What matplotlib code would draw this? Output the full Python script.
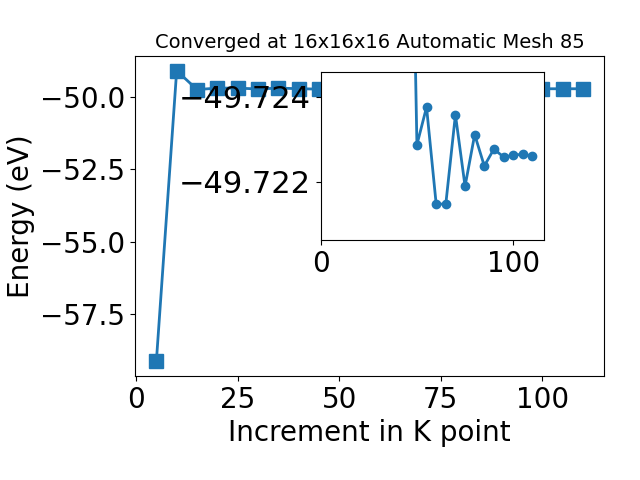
import numpy as np
import matplotlib
matplotlib.use("Agg")
from matplotlib import pyplot as plt

# k-point increments and total energies
kpoints = [5, 10, 15, 20, 25, 30, 35, 40, 45, 50, 55, 60, 65, 70, 75, 80, 85, 90, 95, 100, 105, 110]
energy = [-59.115, -49.10, -49.75, -49.70, -49.70, -49.73, -49.70, -49.72, -49.735,
          -49.72287, -49.72376, -49.72147, -49.72147, -49.72358, -49.72189, -49.72311,
          -49.72237, -49.72277, -49.72258, -49.72262, -49.72265, -49.72260]

plt.rcParams['font.size'] = 20

fig = plt.figure(figsize=(6.4, 4.8), dpi=100)
ax = fig.add_axes([0.211, 0.217, 0.733, 0.666])
ax.plot(kpoints, energy, marker='s', markersize=10, linewidth=2)
ax.set_xlabel('Increment in K point')
ax.set_ylabel('Energy (eV)')
ax.set_title('Converged at 16x16x16 Automatic Mesh 85', fontsize=14)

# zoomed inset (inverted y), from 45 onwards
ins = fig.add_axes([0.501, 0.5, 0.349, 0.35])
ins.plot(kpoints[8:], energy[8:], marker='o', markersize=6, linewidth=2)
ins.set_ylim(-49.72062, -49.72459)
ins.set_xlim(0, 116)
ins.set_yticks([-49.724, -49.722])
ins.ticklabel_format(axis='y', useOffset=False)
ins.tick_params(axis='y', labelsize=22)

fig.savefig('out.png', dpi=100)
